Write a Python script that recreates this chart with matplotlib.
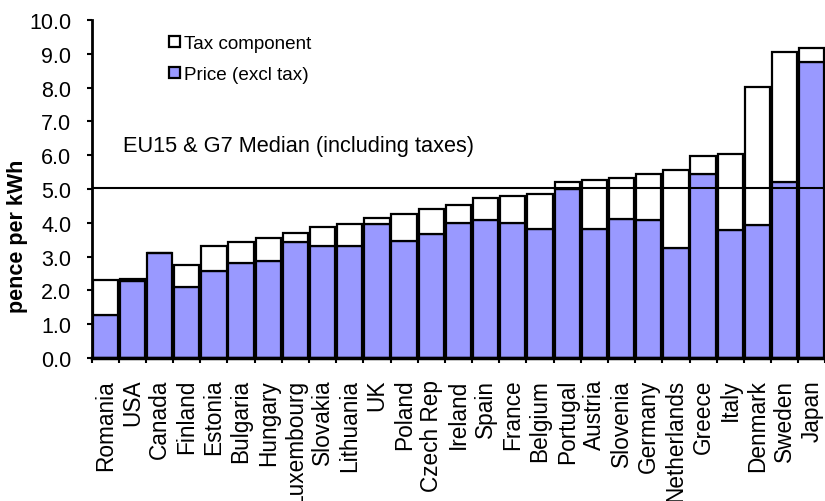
import numpy as np
import matplotlib.pyplot as plt
from matplotlib.ticker import FormatStrFormatter

plt.rcParams["font.family"] = ["Liberation Sans", "DejaVu Sans"]

countries = ["Romania", "USA", "Canada", "Finland", "Estonia", "Bulgaria",
             "Hungary", "Luxembourg", "Slovakia", "Lithuania", "UK", "Poland",
             "Czech Rep", "Ireland", "Spain", "France", "Belgium", "Portugal",
             "Austria", "Slovenia", "Germany", "Netherlands", "Greece", "Italy",
             "Denmark", "Sweden", "Japan"]

# pence per kWh, price before tax
price = [1.26, 2.27, 3.11, 2.09, 2.57, 2.81, 2.88, 3.42, 3.30, 3.30, 3.95, 3.47,
         3.66, 4.00, 4.07, 4.00, 3.83, 4.99, 3.83, 4.12, 4.07, 3.24, 5.44, 3.78,
         3.94, 5.21, 8.75]

# tax part stacked on top
tax = [1.06, 0.06, 0.00, 0.67, 0.73, 0.61, 0.67, 0.28, 0.59, 0.65, 0.19, 0.78,
       0.76, 0.54, 0.66, 0.79, 1.02, 0.21, 1.44, 1.21, 1.38, 2.32, 0.55, 2.27,
       4.09, 3.84, 0.42]

median_total = 5.04

x = np.arange(len(countries))

fig = plt.figure(figsize=(8.25, 5.02), dpi=100)
ax = fig.add_axes([0.111, 0.285, 0.8895, 0.673])

b_price = ax.bar(x, price, width=0.93, color="#9999ff", edgecolor="black",
                 linewidth=1.6, label="Price (excl tax)", zorder=2)
b_tax = ax.bar(x, tax, bottom=price, width=0.93, color="white",
               edgecolor="black", linewidth=1.6, label="Tax component", zorder=2)

ax.axhline(median_total, color="black", linewidth=1.5, zorder=3)
ax.text(0.65, 6.3, "EU15 & G7 Median (including taxes)", fontsize=15.7,
        va="center", ha="left")

ax.set_xlim(-0.5, len(countries) - 0.5)
ax.set_ylim(0, 10)
ax.set_yticks(np.arange(0, 10.1, 1.0))
ax.yaxis.set_major_formatter(FormatStrFormatter("%.1f"))
ax.tick_params(axis="y", labelsize=15.5, length=3.6, width=1.5, pad=11)

# ticks between bars, labels under the bars
ax.set_xticks(np.arange(-0.5, len(countries), 1.0))
ax.set_xticklabels([])
ax.set_xticks(x, minor=True)
ax.set_xticklabels(countries, minor=True, rotation=90, fontsize=16.3)
ax.tick_params(axis="x", which="major", length=3.6, width=1.5)
ax.tick_params(axis="x", which="minor", length=0, pad=15)

ax.set_ylabel("pence per kWh", fontsize=15.5, fontweight="bold")
ax.yaxis.set_label_coords(-0.086, 0.362)

for side in ["top", "right"]:
    ax.spines[side].set_visible(False)
ax.spines["left"].set_linewidth(2)
ax.spines["bottom"].set_linewidth(2.5)

ax.legend(handles=[b_tax, b_price], loc="upper left",
          bbox_to_anchor=(0.106, 0.955), frameon=False, fontsize=13.6,
          handlelength=0.55, handleheight=0.55, handletextpad=0.25,
          borderaxespad=0, borderpad=0, labelspacing=0.75)

fig.savefig("out.png", dpi=100)
